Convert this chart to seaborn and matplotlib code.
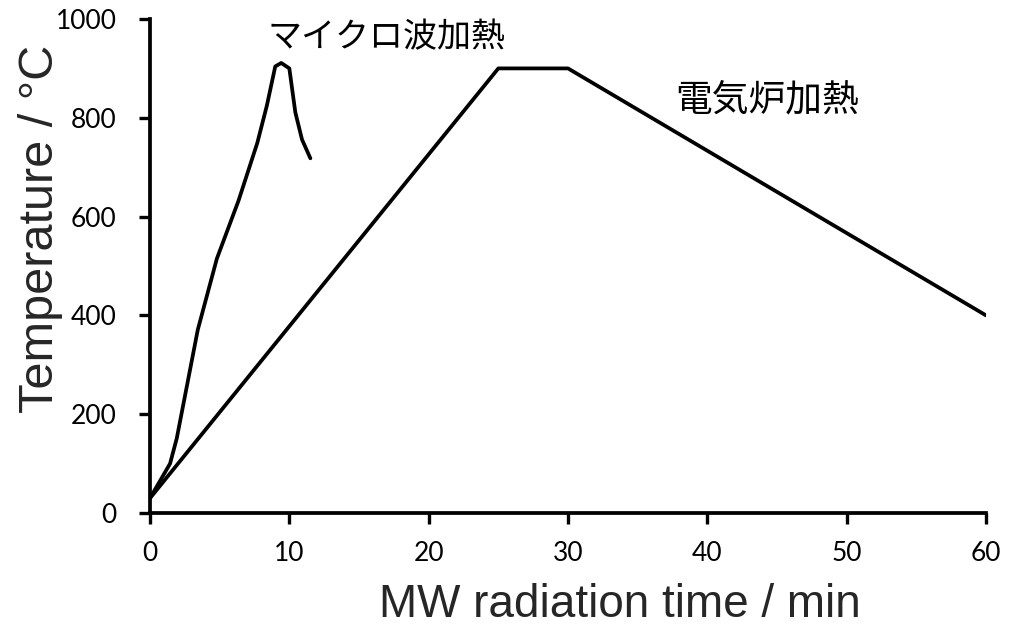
import matplotlib
matplotlib.use("Agg")
import matplotlib.pyplot as plt
import seaborn as sns
import pandas as pd

# Microwave heating profile
mw_time = [0, 1.44, 1.92, 3.43, 4.80, 6.35, 7.7, 8.39, 8.99, 9.42, 10.0, 10.43, 10.91, 11.51]
mw_temp = [30, 100, 151, 371, 515, 632, 749, 825, 904, 911, 900, 811, 756, 718]

# Electric furnace heating profile
ef_time = [0, 25, 30, 60]
ef_temp = [30, 900, 900, 400]

x_ticks = [0, 10, 20, 30, 40, 50, 60]
y_ticks = [0, 200, 400, 600, 800, 1000]

sns.set_theme(style="ticks")
plt.rcParams["font.family"] = ["Noto Sans CJK JP", "DejaVu Sans"]

fig = plt.figure(figsize=(10.09, 6.27), dpi=100)
ax = fig.add_axes([150 / 1009, 1 - 513 / 627, (986 - 150) / 1009, (513 - 19) / 627])

mw = pd.DataFrame({"time": mw_time, "temp": mw_temp})
ef = pd.DataFrame({"time": ef_time, "temp": ef_temp})
sns.lineplot(data=mw, x="time", y="temp", sort=False, color="black", lw=2.7, ax=ax)
sns.lineplot(data=ef, x="time", y="temp", sort=False, color="black", lw=2.7, ax=ax)

ax.set_xlim(0, 60)
ax.set_ylim(0, 1000)
ax.set_xticks(x_ticks)
ax.set_yticks(y_ticks)
ax.set_xticklabels([str(t) for t in x_ticks], family="Lato", fontsize=19)
ax.set_yticklabels([str(t) for t in y_ticks], family="Lato", fontsize=19)
ax.tick_params(axis="both", direction="out", length=8, width=2.4, colors="black")
ax.tick_params(axis="x", pad=12)
ax.tick_params(axis="y", pad=16)

for side in ("top", "right"):
    ax.spines[side].set_visible(False)
for side in ("left", "bottom"):
    ax.spines[side].set_linewidth(2.7)
    ax.spines[side].set_color("black")

ax.set_xlabel("MW radiation time / min", family="Liberation Sans", fontsize=33)
ax.set_ylabel("Temperature / \u00b0C", family="Liberation Sans", fontsize=35)
ax.xaxis.set_label_coords(0.562, -0.142)
ax.yaxis.set_label_coords(-0.104, 0.575)

ax.text(8.45, 963, "マイクロ波加熱", fontsize=24.5, va="center", ha="left", color="black")
ax.text(37.7, 836, "電気炉加熱", fontsize=26.5, va="center", ha="left", color="black")

fig.savefig("out.png", dpi=100)
